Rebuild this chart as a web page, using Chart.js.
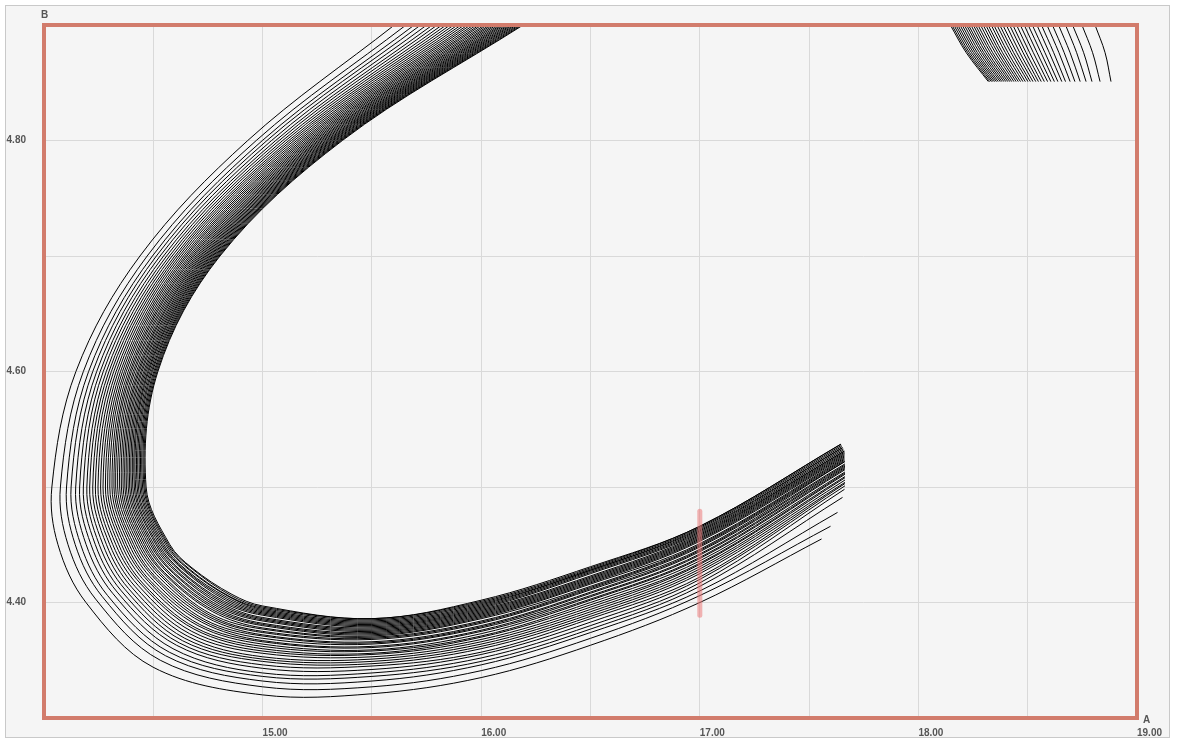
<!DOCTYPE html>
<html>
<head>
<meta charset="utf-8">
<script src="https://cdn.jsdelivr.net/npm/chart.js@4.4.1/dist/chart.umd.min.js"></script>
<style>
  html, body { margin:0; padding:0; background:#fff; }
  #frame { position:absolute; left:5px; top:5px; width:1163px; height:731px; border:1px solid #c9c9c9; background:#f5f5f5; }
  canvas { display:block; }
</style>
</head>
<body>
<div id="frame"><canvas id="c" width="1163" height="731"></canvas></div>
<script>
// ── DATA ─────────────────────────────────────────────────────────
// 40 curves, listed outer -> inner. Each array holds one reading per curve.

// left arm: x where each curve crosses B = 4.90 / 4.80 / 4.70 / 4.60 / 4.50 / 4.45
const leftLevels = [4.90, 4.80, 4.70, 4.60, 4.50, 4.45];
const x490 = [15.603,15.656,15.694,15.723,15.751,15.777,15.799,15.821,15.840,15.858,15.875,15.892,15.908,15.923,15.938,15.951,15.965,15.978,15.991,16.002,16.015,16.026,16.038,16.048,16.059,16.069,16.080,16.090,16.099,16.108,16.118,16.127,16.136,16.144,16.153,16.161,16.170,16.178,16.186,16.192];
const x480 = [14.932,14.971,14.999,15.020,15.041,15.060,15.076,15.092,15.106,15.120,15.132,15.144,15.156,15.167,15.178,15.188,15.198,15.208,15.217,15.226,15.235,15.243,15.252,15.259,15.267,15.275,15.282,15.290,15.297,15.304,15.310,15.317,15.323,15.330,15.336,15.343,15.349,15.355,15.360,15.365];
const x470 = [14.439,14.472,14.496,14.514,14.531,14.547,14.561,14.574,14.586,14.598,14.608,14.618,14.628,14.638,14.647,14.655,14.664,14.672,14.680,14.687,14.695,14.702,14.709,14.716,14.722,14.729,14.735,14.741,14.747,14.753,14.759,14.764,14.770,14.775,14.781,14.786,14.791,14.796,14.801,14.805];
const x460 = [14.146,14.180,14.204,14.223,14.241,14.257,14.271,14.285,14.297,14.308,14.319,14.330,14.340,14.350,14.359,14.368,14.376,14.385,14.393,14.400,14.408,14.415,14.423,14.430,14.436,14.443,14.449,14.456,14.462,14.468,14.474,14.479,14.485,14.491,14.496,14.502,14.507,14.512,14.517,14.521];
const x450 = [14.036,14.075,14.103,14.124,14.145,14.163,14.180,14.196,14.209,14.223,14.235,14.247,14.259,14.270,14.281,14.291,14.301,14.311,14.320,14.328,14.337,14.346,14.354,14.362,14.370,14.377,14.385,14.392,14.399,14.406,14.413,14.419,14.426,14.432,14.439,14.445,14.451,14.457,14.462,14.467];
const x445 = [14.064,14.110,14.143,14.168,14.193,14.215,14.235,14.253,14.270,14.286,14.301,14.315,14.329,14.342,14.355,14.367,14.378,14.390,14.401,14.411,14.422,14.432,14.442,14.451,14.460,14.469,14.478,14.487,14.495,14.503,14.512,14.519,14.527,14.535,14.542,14.549,14.557,14.564,14.570,14.576];

// lower-left bend, two readings per curve
const bendAX = [14.192,14.236,14.267,14.291,14.314,14.335,14.354,14.372,14.387,14.402,14.416,14.430,14.443,14.455,14.468,14.479,14.490,14.501,14.511,14.521,14.531,14.540,14.550,14.559,14.567,14.576,14.584,14.593,14.600,14.608,14.616,14.623,14.630,14.638,14.645,14.652,14.659,14.665,14.672,14.677];
const bendAY = [4.400,4.403,4.405,4.406,4.408,4.409,4.410,4.411,4.412,4.413,4.414,4.415,4.416,4.416,4.417,4.418,4.418,4.419,4.420,4.420,4.421,4.422,4.422,4.423,4.423,4.424,4.424,4.425,4.425,4.426,4.426,4.427,4.427,4.428,4.428,4.428,4.429,4.429,4.430,4.430];
const bendBX = [14.499,14.532,14.555,14.573,14.590,14.606,14.619,14.633,14.644,14.655,14.666,14.676,14.686,14.695,14.704,14.712,14.721,14.729,14.737,14.744,14.751,14.758,14.765,14.772,14.778,14.785,14.791,14.797,14.803,14.809,14.815,14.820,14.825,14.831,14.836,14.841,14.846,14.851,14.856,14.860];
const bendBY = [4.344,4.350,4.354,4.357,4.360,4.363,4.365,4.367,4.369,4.371,4.373,4.375,4.377,4.378,4.380,4.381,4.383,4.384,4.385,4.387,4.388,4.389,4.390,4.392,4.393,4.394,4.395,4.396,4.397,4.398,4.399,4.400,4.401,4.402,4.403,4.404,4.405,4.405,4.406,4.407];

// bottom arm: B where each curve crosses A = 15.0 / 15.5 / 16.0 / 16.5 / 17.0
const bottomCols = [15.0, 15.5, 16.0, 16.5, 17.0];
const y1500 = [4.320,4.327,4.332,4.336,4.339,4.343,4.346,4.349,4.351,4.353,4.356,4.358,4.360,4.362,4.364,4.366,4.367,4.369,4.371,4.372,4.374,4.375,4.377,4.378,4.380,4.381,4.382,4.384,4.385,4.386,4.387,4.389,4.390,4.391,4.392,4.393,4.394,4.395,4.396,4.397];
const y1550 = [4.321,4.327,4.332,4.336,4.339,4.342,4.345,4.347,4.349,4.351,4.353,4.355,4.356,4.358,4.359,4.361,4.362,4.364,4.365,4.366,4.368,4.369,4.370,4.371,4.372,4.373,4.374,4.375,4.376,4.377,4.378,4.379,4.380,4.381,4.382,4.383,4.384,4.385,4.386,4.386];
const y1600 = [4.335,4.341,4.346,4.349,4.352,4.355,4.357,4.360,4.362,4.364,4.366,4.368,4.370,4.371,4.373,4.375,4.376,4.378,4.379,4.380,4.382,4.383,4.384,4.386,4.387,4.388,4.389,4.390,4.391,4.392,4.393,4.394,4.395,4.396,4.397,4.398,4.399,4.400,4.401,4.402];
const y1650 = [4.363,4.369,4.374,4.377,4.380,4.383,4.386,4.388,4.390,4.392,4.394,4.396,4.398,4.400,4.402,4.403,4.405,4.406,4.408,4.409,4.411,4.412,4.413,4.414,4.416,4.417,4.418,4.419,4.420,4.421,4.422,4.423,4.425,4.426,4.427,4.428,4.428,4.429,4.430,4.431];
const y1700 = [4.400,4.406,4.410,4.414,4.417,4.420,4.422,4.425,4.427,4.429,4.431,4.433,4.434,4.436,4.438,4.439,4.441,4.442,4.444,4.445,4.446,4.448,4.449,4.450,4.451,4.453,4.454,4.455,4.456,4.457,4.458,4.459,4.460,4.461,4.462,4.463,4.464,4.465,4.466,4.466];

// where each curve stops, lower right
const endX = [17.557,17.598,17.630,17.653,17.662,17.664,17.664,17.664,17.664,17.664,17.664,17.664,17.664,17.664,17.664,17.664,17.664,17.664,17.664,17.664,17.664,17.662,17.662,17.662,17.662,17.662,17.662,17.662,17.662,17.662,17.662,17.660,17.658,17.656,17.654,17.652,17.650,17.648,17.646,17.644];
const endY = [4.455,4.466,4.478,4.491,4.498,4.501,4.503,4.504,4.506,4.508,4.509,4.511,4.512,4.513,4.515,4.516,4.517,4.518,4.519,4.520,4.522,4.522,4.523,4.524,4.525,4.526,4.527,4.528,4.529,4.530,4.531,4.531,4.532,4.533,4.534,4.534,4.535,4.536,4.537,4.537];

// top-right pieces: x at B = 4.90 (re-entry), 4.876, 4.851 (stop)
const trLevels = [4.90, 4.876, 4.851];
const trTopX = [18.808,18.748,18.705,18.673,18.641,18.613,18.588,18.563,18.542,18.521,18.502,18.484,18.466,18.449,18.432,18.417,18.402,18.386,18.372,18.359,18.345,18.333,18.319,18.308,18.296,18.284,18.272,18.261,18.251,18.240,18.229,18.220,18.210,18.200,18.190,18.180,18.171,18.162,18.153,18.146];
const trMidX = [18.854,18.797,18.756,18.724,18.694,18.667,18.643,18.619,18.599,18.579,18.561,18.543,18.526,18.509,18.493,18.479,18.464,18.450,18.436,18.424,18.410,18.398,18.385,18.374,18.363,18.352,18.340,18.330,18.319,18.309,18.299,18.290,18.280,18.270,18.261,18.252,18.243,18.234,18.226,18.219];
const trEndX = [18.881,18.831,18.794,18.767,18.740,18.716,18.694,18.673,18.656,18.638,18.622,18.606,18.591,18.576,18.562,18.549,18.537,18.524,18.512,18.501,18.489,18.478,18.467,18.457,18.447,18.437,18.427,18.418,18.409,18.400,18.391,18.382,18.374,18.365,18.357,18.349,18.341,18.334,18.326,18.320];

// red marker at A = 17
const markX = [17.0, 17.0];
const markY = [4.389, 4.479];

// ── BUILD ────────────────────────────────────────────────────────
const leftCols = [x490, x480, x470, x460, x450, x445];
const bends = [[bendAX, bendAY], [bendBX, bendBY]];
const bottomRows = [y1500, y1550, y1600, y1650, y1700];
const trCols = [trTopX, trMidX, trEndX];

const lineStyle = { showLine:true, borderColor:'#000', borderWidth:1, pointRadius:0, tension:0.35, order:1 };
const datasets = [];

datasets.push({ data: markX.map((x, k) => ({ x, y: markY[k] })), showLine:true, pointRadius:0,
  borderColor:'rgba(235,120,120,0.55)', borderWidth:5, borderCapStyle:'round', order:0 });

x490.forEach((_, i) => {
  const pts = [];
  leftCols.forEach((col, k) => pts.push({ x: col[i], y: leftLevels[k] }));
  bends.forEach(([bx, by]) => pts.push({ x: bx[i], y: by[i] }));
  bottomRows.forEach((row, k) => pts.push({ x: bottomCols[k], y: row[i] }));
  pts.push({ x: endX[i], y: endY[i] });
  datasets.push({ ...lineStyle, data: pts });

  datasets.push({ ...lineStyle, data: trCols.map((col, k) => ({ x: col[i], y: trLevels[k] })) });
});

// red plot frame + axis names
const frameDecor = {
  id: 'frameDecor',
  afterDraw(chart) {
    const { ctx, chartArea: a } = chart;
    ctx.save();
    ctx.strokeStyle = '#d27c6c';
    ctx.lineWidth = 4;
    ctx.strokeRect(a.left, a.top, a.right - a.left, a.bottom - a.top);
    ctx.fillStyle = '#555';
    ctx.font = 'bold 10px "Liberation Sans", Arial, sans-serif';
    ctx.textBaseline = 'middle';
    ctx.textAlign = 'left';
    ctx.fillText('B', a.left - 3, a.top - 10);
    ctx.fillText('A', a.right + 6, a.bottom + 2);
    ctx.restore();
  }
};

const tickFont = { family:'"Liberation Sans", Arial, sans-serif', size:10, weight:'bold' };

new Chart(document.getElementById('c'), {
  type: 'scatter',
  data: { datasets },
  plugins: [frameDecor],
  options: {
    responsive:false, animation:false, events:[],
    layout:{ padding:{ top:19, right:32, left:0, bottom:0 } },
    plugins:{ legend:{ display:false }, tooltip:{ enabled:false } },
    scales:{
      x:{ type:'linear', min:14, max:19,
          border:{ display:false },
          grid:{ color:'#d9d9d9', drawTicks:false },
          ticks:{ stepSize:0.5, autoSkip:false, maxRotation:0, align:'start', padding:9, color:'#555', font:tickFont,
                  callback: v => (Math.abs(v - Math.round(v)) < 1e-6 && v > 14.5) ? v.toFixed(2) : '' },
          afterFit: s => { s.height = 19; s.paddingLeft = 0; s.paddingRight = 0; } },
      y:{ type:'linear', min:4.3, max:4.9,
          border:{ display:false },
          grid:{ color:'#d9d9d9', drawTicks:false },
          ticks:{ stepSize:0.1, autoSkip:false, padding:18, color:'#555', font:tickFont,
                  callback: v => [44, 46, 48].includes(Math.round(v * 10)) ? v.toFixed(2) : '' },
          afterFit: s => { s.width = 38; s.paddingTop = 0; s.paddingBottom = 0; } }
    }
  }
});
</script>
</body>
</html>
